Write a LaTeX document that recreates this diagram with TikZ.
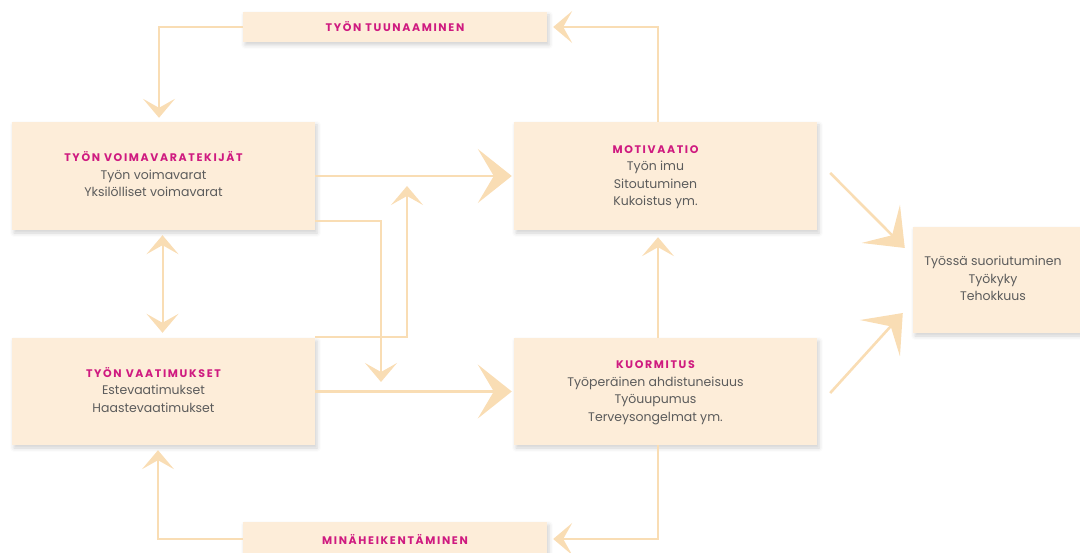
\documentclass[tikz,border=0pt]{standalone}
\usepackage{fontspec}
\setmainfont{Poppins}
\newfontfamily\headfont[LetterSpace=15]{Poppins}
\usetikzlibrary{arrows.meta,shadows.blur}
\definecolor{boxfill}{HTML}{FDEDD9}
\definecolor{arrowcol}{HTML}{F9DDB4}
\definecolor{headcol}{HTML}{CF1A80}
\definecolor{bodycol}{HTML}{5C5C5C}
\newcommand{\boxtitle}[1]{{\headfont\bfseries\fontsize{11}{17.5}\selectfont\color{headcol}#1}}
\newcommand{\boxlines}[2]{\begin{tabular}{@{}c@{}}#1\\#2\end{tabular}\hspace*{20pt}}
\tikzset{
  boxnode/.style={fill=boxfill, inner sep=0pt, text=bodycol,
    font=\fontsize{12.5}{17.5}\selectfont,
    blur shadow={shadow xshift=2pt, shadow yshift=-3pt, shadow blur radius=4pt, shadow opacity=18}},
  flow/.style={draw=arrowcol, line width=2pt, >={Stealth[length=19pt,width=32pt,inset=9pt]}, ->},
  bigflow/.style={draw=arrowcol, line width=2.6pt, -{Stealth[length=34pt,width=54pt,inset=16pt]}}
}
\begin{document}
\begin{tikzpicture}[x=1pt,y=-1pt]
    \useasboundingbox (0,0) rectangle (1080,553);
    \node[boxnode, minimum width=304pt, minimum height=30pt] (tuun) at (395,27) {\boxtitle{TYÖN TUUNAAMINEN}};
    \node[boxnode, minimum width=303pt, minimum height=108pt] (voima) at (163.5,176)
        {\boxlines{\boxtitle{TYÖN VOIMAVARATEKIJÄT}}{Työn voimavarat\\Yksilölliset voimavarat}};
    \node[boxnode, minimum width=303pt, minimum height=108pt] (motiv) at (665.5,176)
        {\boxlines{\boxtitle{MOTIVAATIO}}{Työn imu\\Sitoutuminen\\Kukoistus ym.}};
    \node[boxnode, minimum width=303pt, minimum height=107pt] (vaati) at (163.5,391.5)
        {\boxlines{\boxtitle{TYÖN VAATIMUKSET}}{Estevaatimukset\\Haastevaatimukset}};
    \node[boxnode, minimum width=303pt, minimum height=107pt] (kuorm) at (665.5,391.5)
        {\boxlines{\boxtitle{KUORMITUS}}{Työperäinen ahdistuneisuus\\Työuupumus\\Terveysongelmat ym.}};
    \node[boxnode, minimum width=304pt, minimum height=34pt] (minae) at (395,539) {\boxtitle{MINÄHEIKENTÄMINEN}};
    \node[boxnode, minimum width=180pt, minimum height=106pt] (tulos) at (1003,280)
        {\begin{tabular}{@{}c@{}}Työssä suoriutuminen\\Työkyky\\Tehokkuus\end{tabular}\hspace*{20pt}};

    \coordinate (dnend) at (381,382);
    \coordinate (upend) at (407,186);

    \draw[flow, shorten >=4pt] (tuun.west) -| ([xshift=-4.5pt]voima.north);
    \draw[flow, shorten >=6pt] ([xshift=-7.5pt]motiv.north) |- (tuun.east);
    \draw[flow, <->, shorten >=5pt, shorten <=5pt] ([xshift=-1pt]voima.south) -- ([xshift=-1pt]vaati.north);
    \draw[bigflow, shorten >=2pt] (voima.east) -- (motiv.west);
    \draw[flow] ([yshift=-45pt]voima.east) -| (dnend);
    \draw[flow] ([yshift=1pt]vaati.north east) -| (upend);
    \draw[bigflow, shorten >=2pt] (vaati.east) -- (kuorm.west);
    \draw[flow, shorten >=7pt] ([xshift=-7.5pt]kuorm.north) -- ([xshift=-7.5pt]motiv.south);
    \draw[flow, shorten >=6pt] ([xshift=-7.5pt]kuorm.south) |- (minae.east);
    \draw[flow, shorten >=5pt] (minae.west) -| ([xshift=-5.5pt]vaati.south);
    \draw[bigflow] ([xshift=13pt,yshift=3pt]motiv.east) -- ([xshift=-8pt,yshift=32pt]tulos.west);
    \draw[bigflow] ([xshift=13pt,yshift=-1.5pt]kuorm.east) -- ([xshift=-10pt,yshift=-33pt]tulos.west);
\end{tikzpicture}
\end{document}
